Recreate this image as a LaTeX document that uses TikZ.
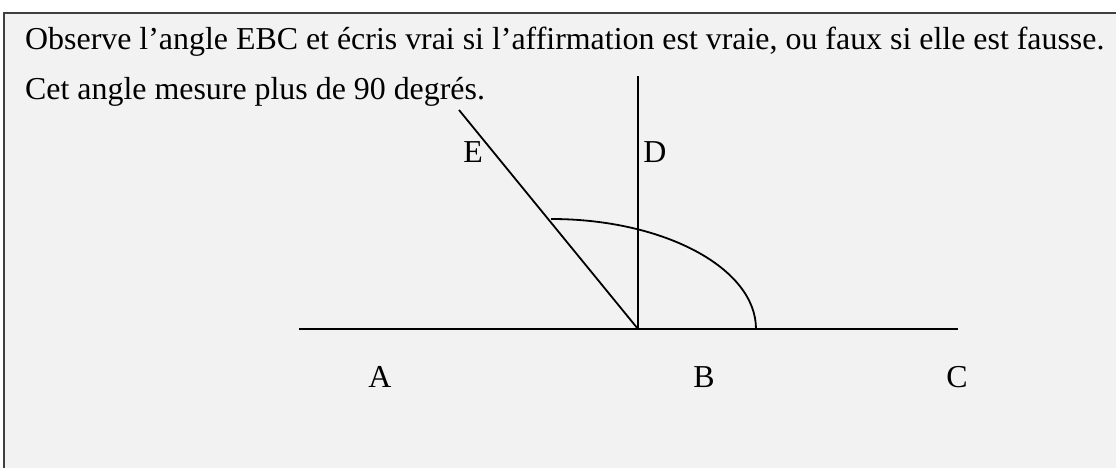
\documentclass[tikz,border=0pt]{standalone}
\usepackage{fontspec}
\setmainfont{Liberation Serif}
\begin{document}
\begin{tikzpicture}[x=1pt,y=1pt,
  txt/.style={anchor=base west,inner sep=0pt,font=\fontsize{31.9}{38}\selectfont},
  lbl/.style={anchor=base,inner sep=0pt,font=\fontsize{31.9}{38}\selectfont},
  geo/.style={line width=1.8pt,black}]
\useasboundingbox (0,0) rectangle (1116,468);
\fill[white] (0,0) rectangle (1116,468);
\draw[fill={rgb,255:red,242;green,242;blue,242},draw={rgb,255:red,64;green,64;blue,64},line width=1.5pt] (4,-10) rectangle (1130,455);
\node[txt] (t1) at (25,418) {Observe l’angle EBC et écris vrai si l’affirmation est vraie, ou faux si elle est fausse.};
\node[txt] (t2) at (25,368) {Cet angle mesure plus de 90 degrés.};
\coordinate (Aend) at (299,139);
\coordinate (Cend) at (958,139);
\coordinate (B) at (638,139);
\coordinate (Dend) at (638,392);
\coordinate (Eend) at (459,358);
\coordinate (arcstart) at (756,139);
\draw[geo] (Aend) -- (Cend);
\draw[geo] (B) -- (Dend);
\draw[geo] (B) -- (Eend);
\draw[geo] (arcstart) arc[start angle=0,end angle=90,x radius=205,y radius=110];
\node[lbl] (lE) at (473,305) {E};
\node[lbl] (lD) at (655,305) {D};
\node[lbl] (lA) at (380,80) {A};
\node[lbl] (lB) at (704,80) {B};
\node[lbl] (lC) at (957,80) {C};
\end{tikzpicture}
\end{document}
